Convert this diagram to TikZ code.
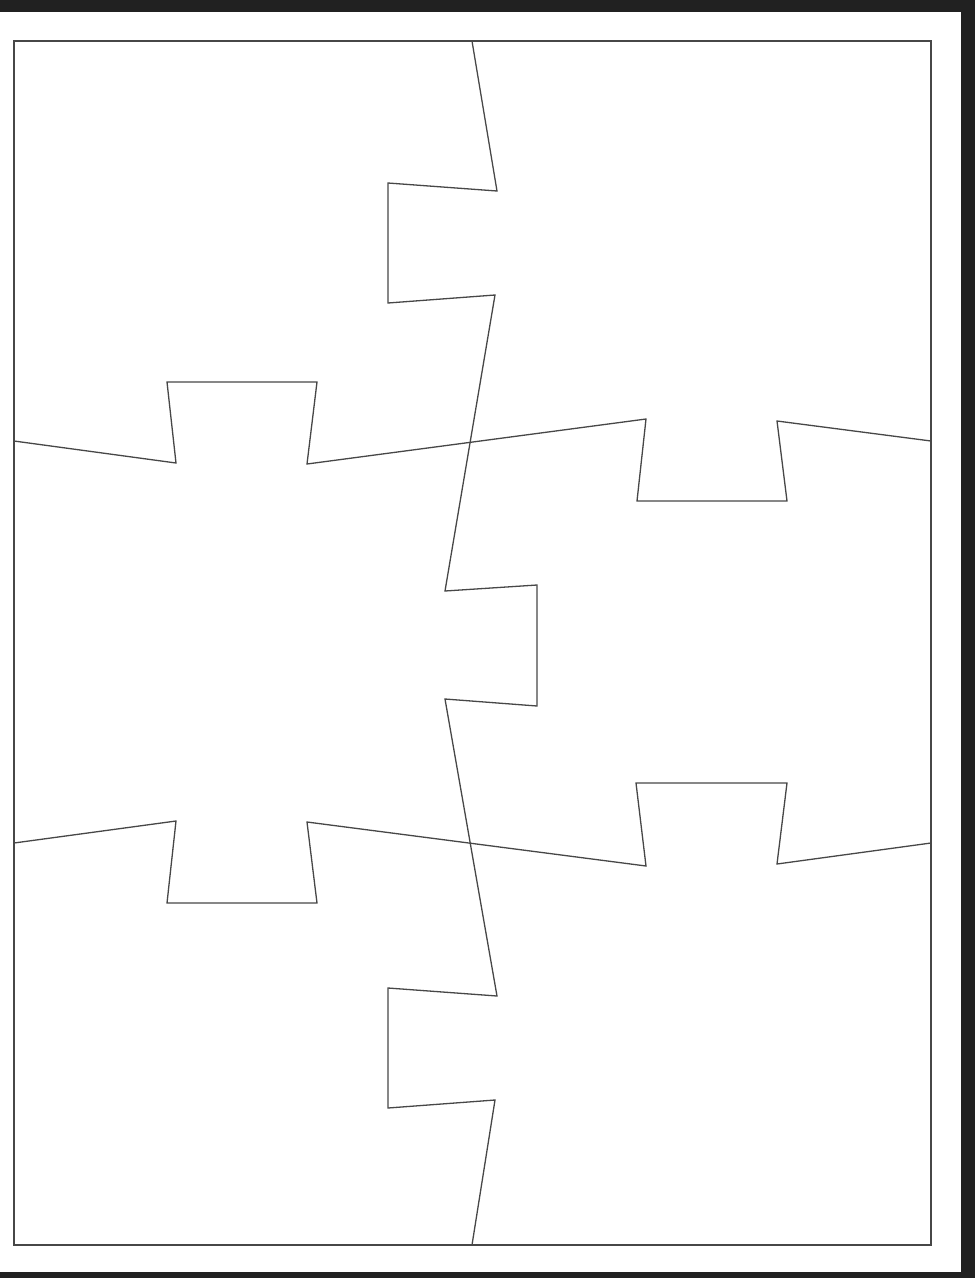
\documentclass[tikz,border=0pt]{standalone}
\begin{document}
\begin{tikzpicture}[x=1pt,y=-1pt,
  cut/.style={draw=black!72,line width=1.3pt,line join=miter}]
\useasboundingbox (0,0) rectangle (975,1278);
\fill[black!87] (0,0) rectangle (975,1278);
\fill[white] (0,12) rectangle (961,1272);
% outer frame
\draw[cut] (14,41) rectangle (931,1245);
% vertical cut
\draw[cut] (472,41) -- (497,191) -- (388,183) -- (388,303) -- (495,295)
  -- (445,591) -- (537,585) -- (537,706) -- (445,699) -- (497,996)
  -- (388,988) -- (388,1108) -- (495,1100) -- (472,1245);
% upper horizontal cut
\draw[cut] (14,441) -- (176,463) -- (167,382) -- (317,382) -- (307,464)
  -- (646,419) -- (637,501) -- (787,501) -- (777,421) -- (931,441);
% lower horizontal cut
\draw[cut] (14,843) -- (176,821) -- (167,903) -- (317,903) -- (307,822)
  -- (646,866) -- (636,783) -- (787,783) -- (777,864) -- (931,843);
\end{tikzpicture}
\end{document}
